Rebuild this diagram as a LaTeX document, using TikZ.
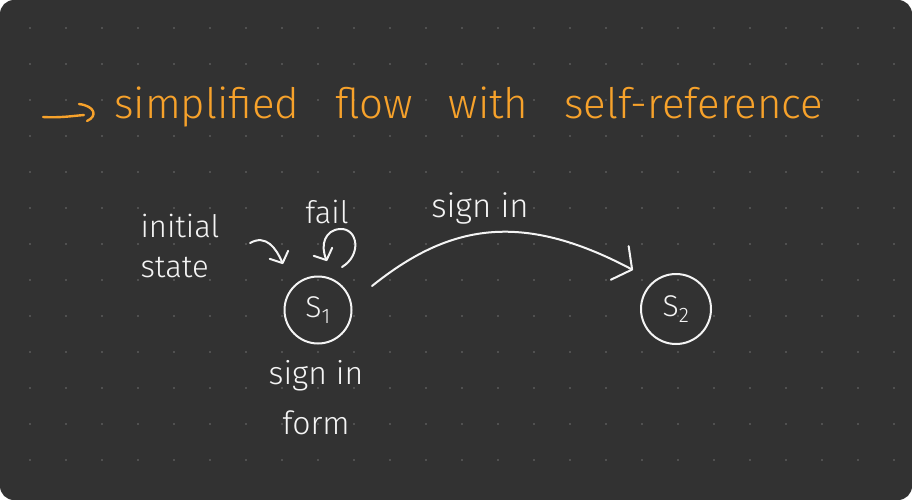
\documentclass[tikz,border=0pt]{standalone}
\usepackage{fontspec}
\setmainfont{Fira Sans Light}
\usetikzlibrary{arrows.meta}
\definecolor{bg}{HTML}{323232}
\definecolor{dotc}{HTML}{5C5C5C}
\definecolor{pen}{HTML}{F4F4F4}
\definecolor{orangepen}{HTML}{F7A22B}
\begin{document}
\begin{tikzpicture}[x=1pt,y=-1pt,
  stroke/.style={draw=pen, line width=2pt, line cap=round, line join=round},
  ostroke/.style={draw=orangepen, line width=2.4pt, line cap=round, line join=round},
  statecircle/.style={circle, draw=pen, line width=2pt, inner sep=0pt, text=pen,
    font=\fontsize{30}{30}\selectfont},
  hand/.style={text=pen, inner sep=0pt, font=\fontsize{31}{40}\selectfont},
  bigbarb/.style={-{Straight Barb[length=14pt,width=38pt,round]}},
  smallbarb/.style={-{Straight Barb[length=9pt,width=20pt,round]}}]
\useasboundingbox (0,0) rectangle (912,500);
\fill[white] (0,0) rectangle (912,500);
\fill[bg, rounded corners=14pt] (0,0) rectangle (912,500);
% dot grid
\foreach \i in {0,...,24}
  \foreach \j in {0,...,12}
    \fill[dotc] (30+36*\i, 28+36*\j) circle (1.1pt);
% title
\draw[ostroke] (43,117) .. controls (60,118) and (72,116) .. (84,115);
\draw[ostroke] (79,104) .. controls (95,106) and (98,116) .. (87,121);
\node[anchor=base west, inner sep=0pt, text=orangepen, font=\fontsize{42}{50}\selectfont]
  (title) at (114,119) {\spaceskip=36pt\relax simplified flow with self-reference};
% states
\node[statecircle, minimum size=67pt] (s1) at (318,310) {S\textsubscript{1}};
\node[statecircle, minimum size=70pt] (s2) at (676,309) {S\textsubscript{2}};
% labels
\node[hand, align=left, anchor=center] (init) at (180,246) {initial\\state};
\node[hand, anchor=base] (fail) at (327,223) {fail};
\node[hand, anchor=base, font=\fontsize{33}{40}\selectfont] (signlbl) at (480,217) {sign in};
\node[hand, align=center, anchor=center, font=\fontsize{32}{50}\selectfont] (form) at (316,398) {sign in\\form};
% connectors
\coordinate (i0) at (250,243);
\coordinate (i1) at (283,264);
\draw[stroke, smallbarb] (i0) .. controls (266,234) and (276,248) .. (i1);
\coordinate (l0) at (342,267);
\coordinate (l1) at (327,261);
\draw[stroke, smallbarb] (l0) .. controls (362,255) and (358,228) .. (340,229)
  .. controls (325,230) and (320,245) .. (l1);
\coordinate (c1) at (372,286);
\coordinate (c2) at (633,270);
\draw[stroke, bigbarb] (c1) .. controls (448,225) and (520,210) .. (c2);
\end{tikzpicture}
\end{document}
